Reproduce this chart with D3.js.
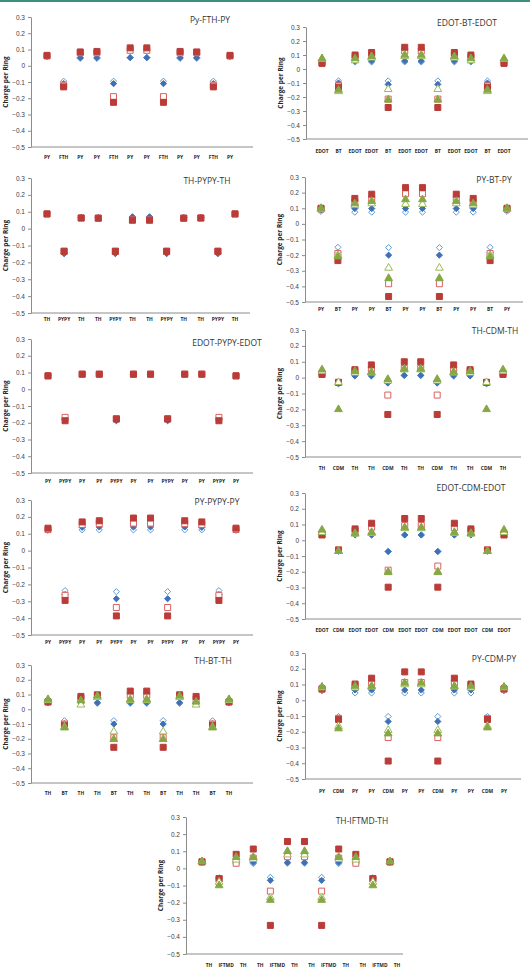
<!DOCTYPE html>
<html lang="en">
<head>
<meta charset="utf-8">
<title>Charge per Ring</title>
<script src="https://d3js.org/d3.v7.min.js"></script>
<style>
  body { margin: 0; background: #fff; }
  svg { display: block; font-family: "Open Sans", "Liberation Sans", sans-serif; }
</style>
</head>
<body>
<script>
// ---- data: charge per ring, 12 rings per oligomer ----
// series: dOpen (open diamond), dFill (filled diamond), sOpen (open square),
//         sFill (filled square), tOpen (open triangle), tFill (filled triangle)

const catsPyFthPy = ["PY","FTH","PY","PY","FTH","PY","PY","FTH","PY","PY","FTH","PY"];
const pyFthPy_dOpen = [0.055,-0.095,0.045,0.045,-0.095,0.05,0.05,-0.095,0.045,0.045,-0.095,0.055];
const pyFthPy_dFill = [0.06,-0.11,0.05,0.05,-0.11,0.05,0.05,-0.11,0.05,0.05,-0.11,0.06];
const pyFthPy_sOpen = [0.06,-0.12,0.08,0.08,-0.19,0.095,0.095,-0.19,0.08,0.08,-0.12,0.06];
const pyFthPy_sFill = [0.064,-0.13,0.085,0.088,-0.225,0.11,0.11,-0.225,0.088,0.085,-0.13,0.064];

const catsEdotBtEdot = ["EDOT","BT","EDOT","EDOT","BT","EDOT","EDOT","BT","EDOT","EDOT","BT","EDOT"];
const edotBt_dOpen = [0.04,-0.085,0.05,0.05,-0.085,0.05,0.05,-0.085,0.05,0.05,-0.085,0.04];
const edotBt_dFill = [0.045,-0.1,0.057,0.057,-0.11,0.057,0.057,-0.11,0.057,0.057,-0.1,0.045];
const edotBt_sOpen = [0.045,-0.12,0.085,0.1,-0.215,0.128,0.128,-0.215,0.1,0.085,-0.12,0.045];
const edotBt_sFill = [0.04,-0.13,0.1,0.118,-0.275,0.155,0.155,-0.275,0.118,0.1,-0.13,0.04];
const edotBt_tOpen = [0.07,-0.16,0.06,0.08,-0.145,0.09,0.09,-0.145,0.08,0.06,-0.16,0.07];
const edotBt_tFill = [0.075,-0.15,0.075,0.09,-0.22,0.1,0.1,-0.22,0.09,0.075,-0.15,0.075];

const catsThPypyTh = ["TH","PYPY","TH","TH","PYPY","TH","TH","PYPY","TH","TH","PYPY","TH"];
const thPypy_dOpen = [0.087,-0.145,0.065,0.065,-0.145,0.068,0.068,-0.145,0.065,0.065,-0.145,0.087];
const thPypy_dFill = [0.087,-0.148,0.065,0.065,-0.148,0.07,0.07,-0.148,0.065,0.065,-0.148,0.087];
const thPypy_sOpen = [0.087,-0.133,0.063,0.062,-0.133,0.052,0.052,-0.133,0.062,0.063,-0.133,0.087];
const thPypy_sFill = [0.087,-0.135,0.063,0.062,-0.135,0.05,0.05,-0.135,0.062,0.063,-0.135,0.087];

const catsPyBtPy = ["PY","BT","PY","PY","BT","PY","PY","BT","PY","PY","BT","PY"];
const pyBt_dOpen = [0.08,-0.15,0.075,0.075,-0.152,0.075,0.075,-0.152,0.075,0.075,-0.15,0.08];
const pyBt_dFill = [0.09,-0.185,0.098,0.098,-0.2,0.098,0.098,-0.2,0.098,0.098,-0.185,0.09];
const pyBt_sOpen = [0.095,-0.19,0.14,0.16,-0.383,0.193,0.193,-0.383,0.16,0.14,-0.19,0.095];
const pyBt_sFill = [0.1,-0.235,0.163,0.19,-0.465,0.232,0.232,-0.465,0.19,0.163,-0.235,0.1];
const pyBt_tOpen = [0.095,-0.2,0.12,0.13,-0.282,0.126,0.126,-0.282,0.13,0.12,-0.2,0.095];
const pyBt_tFill = [0.1,-0.21,0.13,0.145,-0.348,0.156,0.156,-0.348,0.145,0.13,-0.21,0.1];

const catsEdotPypyEdot = ["PY","PYPY","PY","PY","PYPY","PY","PY","PYPY","PY","PY","PYPY","PY"];
const edotPypy_dOpen = [0.08,-0.175,0.09,0.09,-0.185,0.09,0.09,-0.185,0.09,0.09,-0.175,0.08];
const edotPypy_dFill = [0.08,-0.18,0.09,0.09,-0.188,0.09,0.09,-0.188,0.09,0.09,-0.18,0.08];
const edotPypy_sOpen = [0.08,-0.168,0.09,0.09,-0.175,0.09,0.09,-0.175,0.09,0.09,-0.168,0.08];
const edotPypy_sFill = [0.08,-0.188,0.09,0.09,-0.178,0.09,0.09,-0.178,0.09,0.09,-0.188,0.08];

const catsThCdmTh = ["TH","CDM","TH","TH","CDM","TH","TH","CDM","TH","TH","CDM","TH"];
const thCdm_dOpen = [0.02,-0.04,0.01,0.01,-0.035,0.012,0.012,-0.035,0.01,0.01,-0.04,0.02];
const thCdm_dFill = [0.02,-0.035,0.012,0.012,-0.033,0.015,0.015,-0.033,0.012,0.012,-0.035,0.02];
const thCdm_sOpen = [0.025,-0.03,0.04,0.05,-0.11,0.058,0.058,-0.11,0.05,0.04,-0.03,0.025];
const thCdm_sFill = [0.02,-0.03,0.05,0.08,-0.232,0.1,0.1,-0.232,0.08,0.05,-0.03,0.02];
const thCdm_tOpen = [0.04,-0.03,0.03,0.03,-0.02,0.05,0.05,-0.02,0.03,0.03,-0.03,0.04];
const thCdm_tFill = [0.05,-0.2,0.04,0.035,-0.01,0.055,0.055,-0.01,0.035,0.04,-0.2,0.05];

const catsPyPypyPy = ["PY","PYPY","PY","PY","PYPY","PY","PY","PYPY","PY","PY","PYPY","PY"];
const pyPypy_dOpen = [0.12,-0.237,0.123,0.123,-0.243,0.123,0.123,-0.243,0.123,0.123,-0.237,0.12];
const pyPypy_dFill = [0.125,-0.26,0.138,0.14,-0.285,0.14,0.14,-0.285,0.14,0.138,-0.26,0.125];
const pyPypy_sOpen = [0.125,-0.265,0.155,0.16,-0.337,0.163,0.163,-0.337,0.16,0.155,-0.265,0.125];
const pyPypy_sFill = [0.133,-0.295,0.17,0.177,-0.387,0.193,0.193,-0.387,0.177,0.17,-0.295,0.133];

const catsEdotCdmEdot = ["EDOT","CDM","EDOT","EDOT","CDM","EDOT","EDOT","CDM","EDOT","EDOT","CDM","EDOT"];
const edotCdm_dOpen = [0.035,-0.07,0.033,0.033,-0.07,0.033,0.033,-0.07,0.033,0.033,-0.07,0.035];
const edotCdm_dFill = [0.035,-0.068,0.035,0.034,-0.072,0.034,0.034,-0.072,0.034,0.035,-0.068,0.035];
const edotCdm_sOpen = [0.035,-0.06,0.06,0.083,-0.19,0.094,0.094,-0.164,0.08,0.06,-0.06,0.035];
const edotCdm_sFill = [0.034,-0.064,0.072,0.108,-0.298,0.138,0.138,-0.298,0.108,0.072,-0.064,0.034];
const edotCdm_tOpen = [0.05,-0.07,0.04,0.045,-0.2,0.075,0.075,-0.2,0.045,0.04,-0.07,0.05];
const edotCdm_tFill = [0.066,-0.07,0.045,0.051,-0.204,0.081,0.081,-0.204,0.051,0.045,-0.07,0.066];

const catsThBtTh = ["TH","BT","TH","TH","BT","TH","TH","BT","TH","TH","BT","TH"];
const thBt_dOpen = [0.045,-0.078,0.04,0.04,-0.077,0.04,0.04,-0.077,0.04,0.04,-0.078,0.045];
const thBt_dFill = [0.045,-0.098,0.045,0.045,-0.1,0.045,0.045,-0.1,0.045,0.045,-0.098,0.045];
const thBt_sOpen = [0.05,-0.1,0.075,0.09,-0.193,0.094,0.094,-0.193,0.09,0.07,-0.1,0.05];
const thBt_sFill = [0.05,-0.108,0.087,0.098,-0.258,0.123,0.123,-0.258,0.098,0.087,-0.108,0.05];
const thBt_tOpen = [0.06,-0.12,0.03,0.08,-0.152,0.06,0.06,-0.152,0.08,0.03,-0.12,0.06];
const thBt_tFill = [0.067,-0.125,0.06,0.09,-0.204,0.067,0.067,-0.204,0.09,0.05,-0.125,0.067];

const catsPyCdmPy = ["PY","CDM","PY","PY","CDM","PY","PY","CDM","PY","PY","CDM","PY"];
const pyCdm_dOpen = [0.06,-0.103,0.046,0.046,-0.103,0.046,0.046,-0.103,0.046,0.046,-0.103,0.06];
const pyCdm_dFill = [0.065,-0.13,0.065,0.065,-0.135,0.065,0.065,-0.135,0.065,0.065,-0.13,0.065];
const pyCdm_sOpen = [0.07,-0.115,0.09,0.11,-0.237,0.113,0.113,-0.237,0.11,0.09,-0.115,0.07];
const pyCdm_sFill = [0.073,-0.122,0.103,0.14,-0.386,0.18,0.18,-0.386,0.14,0.103,-0.122,0.073];
const pyCdm_tOpen = [0.08,-0.165,0.08,0.085,-0.19,0.1,0.1,-0.19,0.085,0.08,-0.165,0.08];
const pyCdm_tFill = [0.085,-0.18,0.09,0.09,-0.212,0.11,0.11,-0.212,0.09,0.09,-0.174,0.085];

const catsThIftmdTh = ["TH","IFTMD","TH","TH","IFTMD","TH","TH","IFTMD","TH","TH","IFTMD","TH"];
const thIftmd_dOpen = [0.035,-0.055,0.03,0.028,-0.052,0.03,0.03,-0.052,0.028,0.03,-0.055,0.035];
const thIftmd_dFill = [0.038,-0.06,0.035,0.035,-0.07,0.035,0.035,-0.07,0.035,0.035,-0.06,0.038];
const thIftmd_sOpen = [0.038,-0.06,0.03,0.06,-0.133,0.068,0.068,-0.133,0.06,0.03,-0.06,0.038];
const thIftmd_sFill = [0.038,-0.06,0.082,0.113,-0.333,0.157,0.157,-0.333,0.113,0.082,-0.06,0.038];
const thIftmd_tOpen = [0.04,-0.08,0.05,0.055,-0.17,0.08,0.08,-0.17,0.055,0.05,-0.08,0.04];
const thIftmd_tFill = [0.04,-0.1,0.065,0.065,-0.185,0.1,0.1,-0.185,0.065,0.065,-0.1,0.04];

const yTicks = [0.3,0.2,0.1,0,-0.1,-0.2,-0.3,-0.4,-0.5];

// ---- layout ----
const W = 530, H = 979;
const svg = d3.select("body").append("svg").attr("width", W).attr("height", H);

svg.append("rect").attr("x", 0).attr("y", 0).attr("width", W).attr("height", 2)
  .attr("fill", "#3f8f7f");

const panels = [
  {title:"Py-FTH-PY", cats:catsPyFthPy, ax:31, top:17, bot:147, first:47, last:230, end:253, ly:157, tx:210, ty:21,
   s:{dOpen:pyFthPy_dOpen, dFill:pyFthPy_dFill, sOpen:pyFthPy_sOpen, sFill:pyFthPy_sFill}},
  {title:"EDOT-BT-EDOT", cats:catsEdotBtEdot, ax:306, top:27, bot:139, first:322, last:504, end:528, ly:151, tx:467, ty:24,
   s:{dOpen:edotBt_dOpen, dFill:edotBt_dFill, sOpen:edotBt_sOpen, sFill:edotBt_sFill, tOpen:edotBt_tOpen, tFill:edotBt_tFill}},
  {title:"TH-PYPY-TH", cats:catsThPypyTh, ax:31, top:178, bot:313, first:47, last:235, end:250, ly:319, tx:207, ty:182,
   s:{dOpen:thPypy_dOpen, dFill:thPypy_dFill, sOpen:thPypy_sOpen, sFill:thPypy_sFill}},
  {title:"PY-BT-PY", cats:catsPyBtPy, ax:305, top:177, bot:302, first:321, last:507, end:523, ly:309, tx:494, ty:181,
   s:{dOpen:pyBt_dOpen, dFill:pyBt_dFill, sOpen:pyBt_sOpen, sFill:pyBt_sFill, tOpen:pyBt_tOpen, tFill:pyBt_tFill}},
  {title:"EDOT-PYPY-EDOT", cats:catsEdotPypyEdot, ax:31, top:339, bot:473, first:48, last:236, end:253, ly:481, tx:227, ty:344,
   s:{dOpen:edotPypy_dOpen, dFill:edotPypy_dFill, sOpen:edotPypy_sOpen, sFill:edotPypy_sFill}},
  {title:"TH-CDM-TH", cats:catsThCdmTh, ax:305, top:330, bot:457, first:322, last:503, end:521, ly:468, tx:495, ty:332,
   s:{dOpen:thCdm_dOpen, dFill:thCdm_dFill, sOpen:thCdm_sOpen, sFill:thCdm_sFill, tOpen:thCdm_tOpen, tFill:thCdm_tFill}},
  {title:"PY-PYPY-PY", cats:catsPyPypyPy, ax:31, top:500, bot:635, first:48, last:236, end:253, ly:642, tx:217, ty:503,
   s:{dOpen:pyPypy_dOpen, dFill:pyPypy_dFill, sOpen:pyPypy_sOpen, sFill:pyPypy_sFill}},
  {title:"EDOT-CDM-EDOT", cats:catsEdotCdmEdot, ax:305, top:493, bot:619, first:322, last:504, end:521, ly:630, tx:471, ty:489,
   s:{dOpen:edotCdm_dOpen, dFill:edotCdm_dFill, sOpen:edotCdm_sOpen, sFill:edotCdm_sFill, tOpen:edotCdm_tOpen, tFill:edotCdm_tFill}},
  {title:"TH-BT-TH", cats:catsThBtTh, ax:31, top:665, bot:783, first:48, last:229, end:253, ly:793, tx:213, ty:662,
   s:{dOpen:thBt_dOpen, dFill:thBt_dFill, sOpen:thBt_sOpen, sFill:thBt_sFill, tOpen:thBt_tOpen, tFill:thBt_tFill}},
  {title:"PY-CDM-PY", cats:catsPyCdmPy, ax:305, top:653, bot:779, first:322, last:504, end:521, ly:791, tx:494, ty:660,
   s:{dOpen:pyCdm_dOpen, dFill:pyCdm_dFill, sOpen:pyCdm_sOpen, sFill:pyCdm_sFill, tOpen:pyCdm_tOpen, tFill:pyCdm_tFill}},
  {title:"TH-IFTMD-TH", cats:catsThIftmdTh, ax:186, top:817, bot:954, first:202, last:390, end:403, ly:965, tx:362, ty:822, shift:7,
   s:{dOpen:thIftmd_dOpen, dFill:thIftmd_dFill, sOpen:thIftmd_sOpen, sFill:thIftmd_sFill, tOpen:thIftmd_tOpen, tFill:thIftmd_tFill}}
];

// marker styles, in drawing order
const markers = [
  {key:"dOpen", type:d3.symbolDiamond2, size:24, fill:"#fff", stroke:"#5b9bd5"},
  {key:"dFill", type:d3.symbolDiamond2, size:24, fill:"#3f70b6", stroke:"#3f70b6"},
  {key:"sOpen", type:d3.symbolSquare, size:36, fill:"#fff", stroke:"#d9625f"},
  {key:"sFill", type:d3.symbolSquare, size:36, fill:"#b93c38", stroke:"#b93c38"},
  {key:"tOpen", type:d3.symbolTriangle, size:26, fill:"#fff", stroke:"#9bbb59"},
  {key:"tFill", type:d3.symbolTriangle, size:26, fill:"#86a844", stroke:"#86a844"}
];

const fmt = v => v === 0 ? "0" : d3.format(".1f")(v);

panels.forEach(p => {
  const g = svg.append("g");
  const x = d3.scaleLinear().domain([0, p.cats.length - 1]).range([p.first, p.last]);
  const y = d3.scaleLinear().domain([-0.5, 0.3]).range([p.bot, p.top]);

  // y axis
  const yAxis = g.append("g")
    .attr("transform", `translate(${p.ax},0)`)
    .call(d3.axisLeft(y).tickValues(yTicks).tickFormat(fmt).tickSize(3).tickSizeOuter(0));
  yAxis.select(".domain").attr("stroke", "#8c8c8c");
  yAxis.selectAll(".tick line").attr("stroke", "#8c8c8c");
  yAxis.selectAll(".tick text").attr("x", -6).attr("fill", "#404040")
    .style("font-size", "6.5px");

  // x axis line at -0.5
  g.append("line")
    .attr("x1", p.ax).attr("x2", p.end)
    .attr("y1", y(-0.5)).attr("y2", y(-0.5))
    .attr("stroke", "#8c8c8c");

  // category labels (squeezed horizontally, like the narrow original font)
  g.selectAll("text.cat").data(p.cats).join("text")
    .attr("class", "cat")
    .attr("transform", (d, i) => `translate(${x(i) + (p.shift || 0)},${p.ly}) scale(0.82,1)`)
    .attr("text-anchor", "middle")
    .attr("dominant-baseline", "middle")
    .attr("fill", "#262626")
    .style("font-size", "6px")
    .style("font-weight", "bold")
    .text(d => d);

  // y title
  g.append("text")
    .attr("transform", `translate(${p.ax - 25},${(p.top + p.bot) / 2}) rotate(-90)`)
    .attr("text-anchor", "middle")
    .attr("dominant-baseline", "middle")
    .attr("fill", "#262626")
    .style("font-size", "6.5px")
    .style("font-weight", "bold")
    .text("Charge per Ring");

  // chart title
  g.append("text")
    .attr("x", p.tx).attr("y", p.ty)
    .attr("text-anchor", "middle")
    .attr("dominant-baseline", "middle")
    .attr("fill", "#333")
    .style("font-size", "8.5px")
    .text(p.title);

  // points
  markers.forEach(m => {
    const vals = p.s[m.key];
    if (!vals) return;
    g.selectAll(null).data(vals).join("path")
      .attr("transform", (d, i) => `translate(${x(i)},${y(d)})`)
      .attr("d", d3.symbol().type(m.type).size(m.size))
      .attr("fill", m.fill)
      .attr("stroke", m.stroke)
      .attr("stroke-width", 1);
  });
});
</script>
</body>
</html>
